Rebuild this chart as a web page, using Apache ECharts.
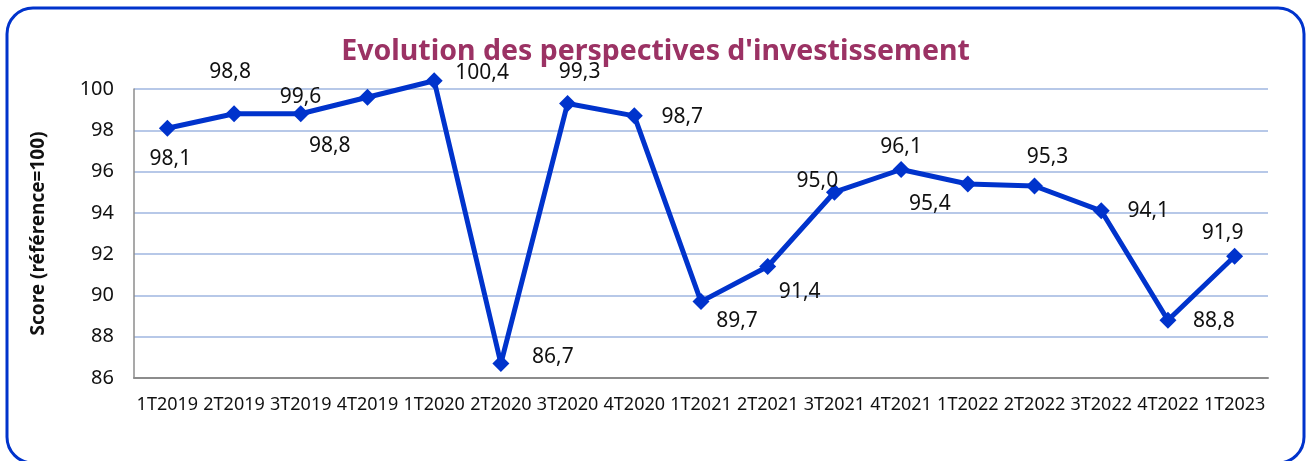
<!DOCTYPE html>
<html>
<head>
<meta charset="utf-8">
<script src="https://cdn.jsdelivr.net/npm/echarts@6/dist/echarts.min.js"></script>
<style>
  html, body { margin: 0; padding: 0; background: #fff; }
  #chart { width: 1311px; height: 461px; }
</style>
</head>
<body>
<div id="chart"></div>
<script>
const categories = ['1T2019', '2T2019', '3T2019', '4T2019', '1T2020', '2T2020', '3T2020', '4T2020', '1T2021',
  '2T2021', '3T2021', '4T2021', '1T2022', '2T2022', '3T2022', '4T2022', '1T2023']
const scores = [98.1, 98.8, 98.8, 99.6, 100.4, 86.7, 99.3, 98.7, 89.7, 91.4, 95.0, 96.1, 95.4, 95.3, 94.1, 88.8, 91.9]
// label offsets relative to each point (px)
const labelOffsets = [[3, 31], [-4, -42], [29, 32], [-67, 0], [48, -8], [52, -7], [12, -31], [48, 1], [36, 19],
  [32, 25], [-17, -11], [0, -22], [-38, 20], [13, -29], [47, 0], [46, 1], [-12, -23]]

const chart = echarts.init(document.getElementById('chart'))
const font = 'Noto Sans'

const seriesData = scores.map((v, i) => ({
  value: v,
  label: { offset: labelOffsets[i] }
}))

chart.setOption({
  animation: false,
  textStyle: { fontFamily: font },
  graphic: [{
    type: 'rect',
    shape: { x: 7, y: 8, width: 1297, height: 455, r: 26 },
    style: { fill: 'none', stroke: '#0033cc', lineWidth: 3 },
    z: 100
  }],
  title: {
    text: "Evolution des perspectives d'investissement",
    left: 'center',
    top: 32,
    textStyle: { color: '#9b3264', fontSize: 28.5, fontWeight: 'bold', fontFamily: font }
  },
  grid: { left: 134, right: 43, top: 89, bottom: 83 },
  xAxis: {
    type: 'category',
    data: categories,
    axisLine: { lineStyle: { color: '#8c8c8c', width: 2 } },
    axisTick: { show: false },
    axisLabel: { color: '#111', fontSize: 18, margin: 18, interval: 0 }
  },
  yAxis: {
    type: 'value',
    min: 86,
    max: 100,
    interval: 2,
    name: 'Score (référence=100)',
    nameLocation: 'middle',
    nameGap: 86,
    nameTextStyle: { color: '#111', fontSize: 19, fontWeight: 'bold' },
    axisLine: { show: true, lineStyle: { color: '#8c8c8c', width: 1.5 } },
    axisTick: { show: false },
    axisLabel: { color: '#111', fontSize: 20, margin: 20 },
    splitLine: { lineStyle: { color: '#b7c8e8', width: 2 } }
  },
  series: [{
    type: 'line',
    data: seriesData,
    clip: false,
    symbol: 'diamond',
    symbolSize: 17,
    lineStyle: { color: '#0033cc', width: 5 },
    itemStyle: { color: '#0033cc' },
    label: {
      show: true,
      position: 'inside',
      color: '#111',
      fontSize: 21,
      formatter: p => p.value.toFixed(1).replace('.', ',')
    }
  }]
})
</script>
</body>
</html>
